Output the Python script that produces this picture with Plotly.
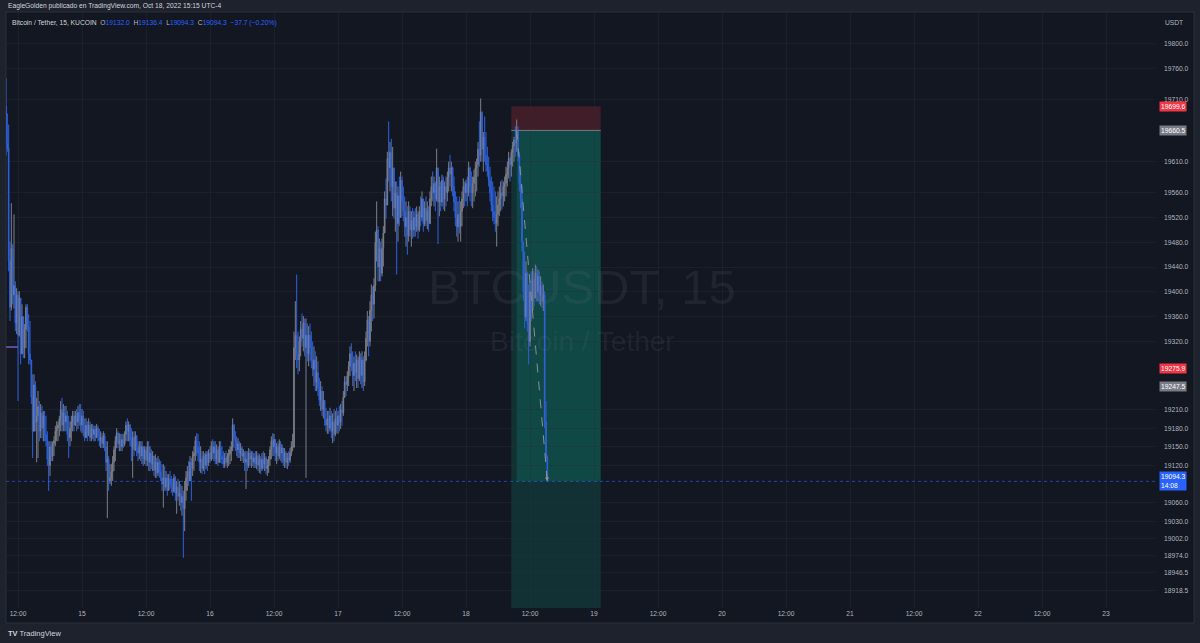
"""BTCUSDT 15m chart (KUCOIN) with a short position tool, TradingView dark style."""
import numpy as np
import pandas as pd
import plotly.graph_objects as go

# --- data (15 min bars, Oct 14 09:45 -> Oct 18 15:15) ---
first_bar = "2022-10-14 09:45"
first_open = 19700

closes = [
    19640, 19632, 19450, 19375, 19470, 19395, 19410, 19350, 19395, 19330,
    19390, 19300, 19360, 19310, 19340, 19375, 19345, 19300, 19290, 19230,
    19175, 19250, 19190, 19200, 19215, 19175, 19205, 19180, 19200, 19170,
    19160, 19130, 19120, 19150, 19135, 19155, 19160, 19175, 19180, 19185,
    19195, 19210, 19185, 19205, 19190, 19200, 19170, 19165, 19180, 19190,
    19200, 19185, 19200, 19190, 19205, 19195, 19185, 19200, 19175, 19165,
    19185, 19170, 19185, 19165, 19180, 19170, 19178, 19165, 19180, 19168,
    19160, 19165, 19155, 19168, 19150, 19125, 19130, 19095, 19100, 19110,
    19125, 19145, 19160, 19172, 19155, 19160, 19150, 19162, 19155, 19170,
    19185, 19175, 19185, 19160, 19150, 19165, 19145, 19168, 19148, 19140,
    19152, 19135, 19150, 19130, 19145, 19128, 19150, 19125, 19140, 19122,
    19135, 19112, 19125, 19108, 19125, 19110, 19100, 19090, 19100, 19085,
    19100, 19080, 19098, 19090, 19085, 19078, 19100, 19075, 19085, 19070,
    19075, 19060, 19070, 19050, 19080, 19100, 19110, 19095, 19125, 19115,
    19135, 19140, 19160, 19150, 19140, 19125, 19130, 19115, 19135, 19120,
    19138, 19125, 19140, 19130, 19152, 19140, 19150, 19130, 19145, 19125,
    19150, 19135, 19130, 19122, 19132, 19125, 19135, 19138, 19145, 19150,
    19185, 19165, 19160, 19145, 19155, 19140, 19148, 19135, 19140, 19125,
    19130, 19120, 19140, 19130, 19135, 19125, 19132, 19122, 19135, 19120,
    19130, 19115, 19130, 19122, 19132, 19115, 19120, 19130, 19145, 19160,
    19150, 19162, 19140, 19150, 19135, 19155, 19140, 19148, 19128, 19140,
    19125, 19132, 19128, 19140, 19150, 19150, 19310, 19330, 19300, 19290,
    19320, 19340, 19325, 19350, 19310, 19330, 19300, 19330, 19310, 19290,
    19275, 19290, 19255, 19270, 19245, 19225, 19240, 19210, 19225, 19195,
    19185, 19195, 19180, 19200, 19175, 19190, 19170, 19195, 19185, 19200,
    19190, 19210, 19205, 19230, 19255, 19250, 19265, 19280, 19300, 19285,
    19265, 19285, 19270, 19290, 19260, 19295, 19265, 19290, 19255, 19290,
    19325, 19355, 19320, 19370, 19395, 19380, 19410, 19480, 19500, 19440,
    19470, 19430, 19470, 19495, 19550, 19540, 19615, 19600, 19625, 19570,
    19600, 19535, 19560, 19510, 19555, 19520, 19580, 19545, 19530, 19505,
    19520, 19490, 19530, 19500, 19515, 19500, 19520, 19505, 19525, 19500,
    19530, 19520, 19550, 19510, 19535, 19515, 19530, 19510, 19550, 19570,
    19560, 19575, 19550, 19600, 19545, 19570, 19545, 19580, 19550, 19570,
    19560, 19585, 19600, 19590, 19600, 19570, 19545, 19520, 19505, 19525,
    19505, 19530, 19550, 19570, 19560, 19575, 19560, 19600, 19570, 19560,
    19575, 19585, 19600, 19605, 19630, 19620, 19690, 19630, 19650, 19620,
    19605, 19595, 19580, 19560, 19540, 19530, 19520, 19510, 19525, 19540,
    19550, 19560, 19555, 19570, 19575, 19590, 19600, 19615, 19605, 19625,
    19635, 19645, 19640, 19660, 19620, 19575, 19550, 19480, 19400, 19360,
    19430, 19350, 19320, 19400, 19370, 19420, 19390, 19430, 19400, 19425,
    19395, 19410, 19385, 19395, 19190, 19132.0, 19094.3,
]

highs = [
    19745, 19688, 19670, 19481, 19543, 19477, 19525, 19417, 19406, 19401,
    19401, 19390, 19380, 19360, 19348, 19380, 19380, 19364, 19353, 19290,
    19267, 19267, 19256, 19229, 19240, 19224, 19219, 19216, 19208, 19208,
    19200, 19175, 19159, 19159, 19159, 19159, 19167, 19184, 19191, 19191,
    19200, 19224, 19229, 19219, 19216, 19216, 19208, 19200, 19191, 19200,
    19208, 19208, 19208, 19211, 19216, 19219, 19219, 19211, 19208, 19196,
    19196, 19191, 19196, 19191, 19187, 19187, 19184, 19184, 19187, 19184,
    19179, 19175, 19172, 19175, 19172, 19159, 19159, 19135, 19122, 19122,
    19135, 19151, 19167, 19180, 19175, 19172, 19171, 19171, 19171, 19175,
    19191, 19196, 19191, 19187, 19180, 19175, 19175, 19175, 19167, 19159,
    19159, 19159, 19159, 19151, 19151, 19151, 19159, 19159, 19151, 19146,
    19143, 19135, 19138, 19132, 19135, 19130, 19127, 19122, 19122, 19119,
    19111, 19106, 19106, 19111, 19103, 19098, 19106, 19103, 19095, 19098,
    19095, 19090, 19087, 19079, 19095, 19111, 19119, 19127, 19135, 19132,
    19143, 19151, 19167, 19172, 19171, 19159, 19151, 19143, 19143, 19140,
    19143, 19143, 19146, 19151, 19159, 19162, 19159, 19159, 19154, 19151,
    19159, 19159, 19151, 19143, 19140, 19143, 19140, 19146, 19151, 19159,
    19196, 19187, 19175, 19167, 19164, 19159, 19156, 19151, 19146, 19143,
    19143, 19143, 19148, 19146, 19143, 19143, 19140, 19143, 19143, 19140,
    19138, 19135, 19140, 19143, 19140, 19135, 19130, 19135, 19151, 19167,
    19172, 19171, 19162, 19156, 19159, 19162, 19159, 19154, 19148, 19148,
    19143, 19140, 19143, 19148, 19159, 19171, 19336, 19385, 19428, 19336,
    19328, 19353, 19365, 19361, 19357, 19357, 19349, 19345, 19349, 19336,
    19320, 19312, 19304, 19296, 19288, 19261, 19256, 19248, 19240, 19224,
    19213, 19208, 19208, 19213, 19208, 19204, 19211, 19208, 19213, 19208,
    19216, 19219, 19224, 19240, 19264, 19264, 19272, 19288, 19312, 19317,
    19304, 19296, 19304, 19299, 19296, 19304, 19301, 19304, 19296, 19304,
    19336, 19369, 19361, 19385, 19412, 19409, 19422, 19497, 19546, 19506,
    19486, 19481, 19486, 19506, 19562, 19583, 19626, 19675, 19642, 19647,
    19634, 19594, 19578, 19578, 19570, 19586, 19594, 19586, 19570, 19554,
    19546, 19538, 19546, 19538, 19530, 19535, 19530, 19535, 19538, 19530,
    19538, 19554, 19562, 19546, 19546, 19554, 19546, 19538, 19562, 19586,
    19594, 19586, 19578, 19631, 19594, 19586, 19578, 19589, 19586, 19578,
    19586, 19594, 19610, 19621, 19610, 19602, 19586, 19562, 19554, 19546,
    19554, 19546, 19562, 19583, 19578, 19581, 19586, 19610, 19602, 19594,
    19586, 19597, 19610, 19615, 19642, 19675, 19712, 19691, 19658, 19683,
    19658, 19634, 19618, 19602, 19586, 19578, 19570, 19562, 19554, 19562,
    19570, 19578, 19581, 19578, 19586, 19602, 19610, 19626, 19618, 19630,
    19642, 19650, 19667, 19678, 19667, 19626, 19602, 19573, 19481, 19465,
    19449, 19433, 19412, 19417, 19433, 19438, 19433, 19444, 19441, 19436,
    19433, 19425, 19417, 19412, 19401, 19224, 19136.4,
]

lows = [
    19620, 19626, 19433, 19353, 19370, 19380, 19373, 19337, 19332, 19224,
    19328, 19283, 19300, 19293, 19293, 19309, 19336, 19283, 19283, 19219,
    19132, 19175, 19175, 19125, 19132, 19159, 19164, 19164, 19159, 19159,
    19151, 19119, 19079, 19103, 19127, 19127, 19135, 19151, 19159, 19159,
    19167, 19175, 19175, 19175, 19175, 19175, 19159, 19132, 19151, 19159,
    19175, 19175, 19184, 19175, 19179, 19184, 19175, 19172, 19167, 19159,
    19164, 19159, 19167, 19159, 19159, 19162, 19159, 19159, 19164, 19159,
    19151, 19148, 19148, 19148, 19143, 19111, 19035, 19079, 19090, 19087,
    19095, 19111, 19127, 19148, 19148, 19143, 19143, 19143, 19148, 19151,
    19159, 19159, 19159, 19151, 19127, 19100, 19135, 19143, 19135, 19127,
    19130, 19127, 19122, 19119, 19122, 19119, 19119, 19111, 19111, 19114,
    19111, 19103, 19100, 19100, 19103, 19100, 19095, 19079, 19052, 19079,
    19079, 19071, 19079, 19082, 19076, 19071, 19076, 19063, 19042, 19063,
    19055, 19047, 19039, 18971, 19014, 19063, 19079, 19087, 19095, 19063,
    19103, 19111, 19127, 19135, 19127, 19111, 19108, 19106, 19111, 19106,
    19114, 19111, 19119, 19124, 19127, 19130, 19127, 19122, 19122, 19119,
    19127, 19124, 19122, 19116, 19116, 19119, 19116, 19119, 19122, 19127,
    19143, 19148, 19143, 19135, 19132, 19132, 19127, 19127, 19124, 19111,
    19082, 19111, 19116, 19119, 19116, 19119, 19116, 19116, 19114, 19111,
    19108, 19106, 19111, 19114, 19111, 19106, 19103, 19108, 19119, 19130,
    19135, 19135, 19127, 19122, 19127, 19130, 19127, 19124, 19119, 19116,
    19116, 19114, 19119, 19124, 19135, 19143, 19148, 19290, 19277, 19267,
    19272, 19296, 19312, 19304, 19296, 19100, 19288, 19280, 19288, 19277,
    19264, 19248, 19240, 19240, 19232, 19216, 19208, 19200, 19196, 19184,
    19175, 19171, 19171, 19175, 19164, 19156, 19159, 19167, 19172, 19171,
    19175, 19179, 19184, 19200, 19229, 19232, 19240, 19248, 19264, 19272,
    19248, 19240, 19256, 19245, 19245, 19256, 19251, 19245, 19240, 19248,
    19288, 19312, 19296, 19312, 19336, 19353, 19357, 19401, 19449, 19417,
    19417, 19417, 19425, 19441, 19497, 19518, 19546, 19578, 19562, 19546,
    19522, 19518, 19497, 19428, 19481, 19506, 19530, 19522, 19514, 19489,
    19473, 19460, 19481, 19489, 19473, 19486, 19489, 19489, 19497, 19486,
    19497, 19506, 19514, 19497, 19506, 19506, 19501, 19497, 19514, 19538,
    19546, 19538, 19530, 19546, 19477, 19522, 19530, 19538, 19533, 19530,
    19538, 19546, 19562, 19570, 19562, 19554, 19530, 19506, 19489, 19481,
    19494, 19481, 19506, 19535, 19538, 19546, 19538, 19554, 19546, 19538,
    19535, 19546, 19554, 19562, 19586, 19602, 19610, 19610, 19594, 19610,
    19594, 19586, 19570, 19546, 19530, 19514, 19509, 19497, 19473, 19506,
    19522, 19530, 19533, 19538, 19546, 19554, 19570, 19583, 19578, 19586,
    19602, 19610, 19618, 19626, 19610, 19562, 19535, 19465, 19385, 19341,
    19353, 19336, 19283, 19312, 19353, 19369, 19377, 19393, 19385, 19385,
    19380, 19377, 19374, 19369, 19180, 19127, 19094.3,
]

# price axis labels as printed on the right scale
price_ticks = [19800, 19760, 19710, 19610, 19560, 19520, 19480, 19440, 19400, 19360,
               19320, 19210, 19180, 19150, 19120, 19060, 19030, 19002, 18974,
               18946.5, 18918.5]

# short position tool
stop_price = 19699.6
entry_price = 19660.5
last_price = 19094.3
other_marks = [(19275.9, "#f23645"), (19247.5, "#787b86")]
tool_start, entry_time, tool_end = "2022-10-18 08:30", "2022-10-18 09:30", "2022-10-19 01:15"

assert len(closes) == len(highs) == len(lows)

times = pd.date_range(first_bar, periods=len(closes), freq="15min")
opens = [first_open] + closes[:-1]
highs = np.maximum(highs, np.maximum(opens, closes))
lows = np.minimum(lows, np.minimum(opens, closes))

BG = "#131722"
FRAME = "#1e222d"
TXT = "#b2b5be"
BLUE = "#2962ff"
FONT = "Liberation Sans, Arial"
FS = 6.7

# plot area in screen pixels (for placing the header / labels)
PL, PR, PT, PB = 6, 1155, 12, 608


def px(x):
    return (x - PL) / (PR - PL)


def py(y):
    return (PB - y) / (PB - PT)


fig = go.Figure()

fig.add_trace(go.Candlestick(
    x=times, open=opens, high=highs, low=lows, close=closes,
    increasing=dict(line=dict(color="#7b7f8a", width=1), fillcolor="#7b7f8a"),
    decreasing=dict(line=dict(color="#2e62d9", width=1), fillcolor="#2e62d9"),
    whiskerwidth=0, showlegend=False, hoverinfo="skip",
))

# dashed projection line inside the position tool
fig.add_trace(go.Scatter(
    x=[pd.Timestamp(entry_time), times[-1]], y=[entry_price, last_price],
    mode="lines", line=dict(color="#8c8f99", width=1, dash="dash"),
    showlegend=False, hoverinfo="skip",
))

shapes = [
    # chart pane
    dict(type="rect", xref="paper", yref="paper", x0=px(6), x1=px(1194), y0=py(623), y1=1,
         fillcolor=BG, line=dict(color="#2a2e39", width=1), layer="below"),
    # stop zone
    dict(type="rect", x0=tool_start, x1=tool_end, y0=entry_price, y1=stop_price,
         fillcolor="rgba(242,54,69,0.2)", line_width=0, layer="below"),
    # target zone
    dict(type="rect", x0=tool_start, x1=tool_end, y0=18880, y1=entry_price,
         fillcolor="rgba(8,153,129,0.2)", line_width=0, layer="below"),
    # realised move
    dict(type="rect", x0=entry_time, x1=tool_end, y0=last_price, y1=entry_price,
         fillcolor="rgba(8,153,129,0.22)", line_width=0, layer="below"),
    dict(type="line", x0=tool_start, x1=tool_end, y0=entry_price, y1=entry_price,
         line=dict(color="#787b86", width=1)),
    # last price line
    dict(type="line", xref="paper", x0=0, x1=1, y0=last_price, y1=last_price,
         line=dict(color="rgba(41,98,255,0.6)", width=1, dash="dot")),
    # small purple mark at left edge
    dict(type="line", x0=times[0], x1="2022-10-14 12:00", y0=19311, y1=19311,
         line=dict(color="#7e57c2", width=1.5)),
]

annotations = [
    dict(text="BTCUSDT, 15", x=px(582), y=py(287), font=dict(size=49, color="rgba(120,123,134,0.13)")),
    dict(text="Bitcoin / Tether", x=px(582), y=py(342), font=dict(size=28, color="rgba(120,123,134,0.13)")),
    dict(text="EagleGolden publicado en TradingView.com, Oct 18, 2022 15:15 UTC-4",
         x=px(6), y=py(6), xanchor="left", font=dict(size=FS, color="#d1d4dc")),
    dict(text=(f'<span style="color:#d1d4dc">Bitcoin / Tether, 15, KUCOIN</span>  '
               f'O<span style="color:{BLUE}">{opens[-1]:.1f}</span>  '
               f'H<span style="color:{BLUE}">{highs[-1]:.1f}</span>  '
               f'L<span style="color:{BLUE}">{lows[-1]:.1f}</span>  '
               f'C<span style="color:{BLUE}">{closes[-1]:.1f}</span>  '
               f'<span style="color:{BLUE}">\u2212{opens[-1] - closes[-1]:.1f} '
               f'(\u2212{(opens[-1] - closes[-1]) / opens[-1] * 100:.2f}%)</span>'),
         x=px(10), y=py(23), xanchor="left", font=dict(size=FS, color="#b2b5be")),
    dict(text="USDT", x=px(1163), y=py(22), xanchor="left", font=dict(size=FS, color=TXT)),
    dict(text="<b>TV</b> TradingView", x=px(6), y=py(633), xanchor="left",
         font=dict(size=7.5, color="#d1d4dc")),
]

for price, color in [(stop_price, "#f23645"), (entry_price, "#787b86")] + other_marks:
    annotations.append(dict(text=f"{price:.1f}", x=px(1159), y=price, yref="y", xanchor="left",
                            bgcolor=color, borderpad=1, font=dict(size=FS, color="white")))
annotations.append(dict(text=f"{last_price:.1f}<br>14:08", x=px(1159), y=last_price, yref="y",
                        xanchor="left", bgcolor=BLUE, borderpad=1, align="left",
                        font=dict(size=FS, color="white")))
annotations.append(dict(x=times[-1], y=last_price, xref="x", yref="y", ax=-1.2, ay=-12,
                        showarrow=True, arrowhead=2, arrowsize=0.8, arrowwidth=1,
                        arrowcolor="#8c8f99", text=""))

for a in annotations:
    a.setdefault("xref", "paper")
    a.setdefault("yref", "paper")
    a.setdefault("showarrow", False)
    a.setdefault("yanchor", "middle")

# time axis: every 12 hours, day number at midnight
tick_times = pd.date_range("2022-10-14 12:00", "2022-10-23 00:00", freq="12h")
tick_text = ["12:00" if t.hour == 12 else str(t.day) for t in tick_times]

fig.update_layout(
    width=1200, height=643,
    margin=dict(l=PL, r=1200 - PR, t=PT, b=643 - PB),
    paper_bgcolor=FRAME, plot_bgcolor=BG,
    font=dict(family=FONT, color=TXT, size=FS),
    shapes=shapes, annotations=annotations,
    showlegend=False,
    xaxis=dict(
        range=["2022-10-14 09:45", "2022-10-23 09:11"],
        rangeslider=dict(visible=False),
        tickvals=tick_times, ticktext=tick_text,
        showgrid=True, gridcolor="rgba(42,46,57,0.35)", gridwidth=1,
        zeroline=False, showline=False, ticks="",
        tickfont=dict(size=FS, color=TXT),
    ),
    yaxis=dict(
        side="right", range=[18890, 19851.5],
        tickvals=price_ticks, ticktext=[f"{v:.1f}" for v in price_ticks],
        showgrid=True, gridcolor="rgba(42,46,57,0.35)", gridwidth=1,
        zeroline=False, showline=False, ticks="",
        ticklabelstandoff=8,
        tickfont=dict(size=FS, color=TXT),
    ),
)

# the page has a default 8px body margin; drop it so the figure fills the window
fig.write_html("out.html", config={"displayModeBar": False},
               post_script="document.body.style.margin='0';")
